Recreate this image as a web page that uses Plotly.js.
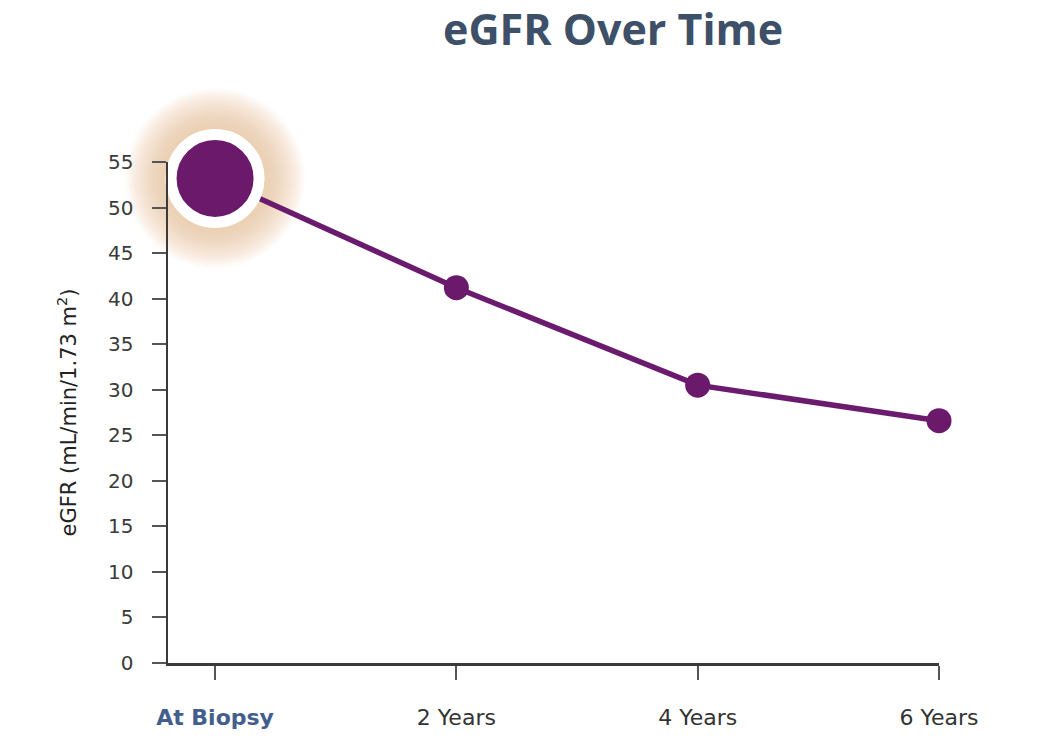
<!DOCTYPE html>
<html><head><meta charset="utf-8">
<script src="https://cdn.plot.ly/plotly-3.0.1.min.js"></script>
<style>html,body{margin:0;padding:0;background:#fff}#chart{width:1048px;height:746px}</style>
</head><body><div id="chart"></div>
<script>
const categories = ["At Biopsy", "2 Years", "4 Years", "6 Years"];
const egfrValues = [53.2, 41.2, 30.5, 26.6];
const tickLabels = ['<b><span style="color:#435e8c">At Biopsy</span></b>', "2 Years", "4 Years", "6 Years"];
const yTicks = [0,5,10,15,20,25,30,35,40,45,50,55];

const traces = [];
// soft glow around the first point
const nGlow = 26;
for (let i = 0; i < nGlow; i++) {
  const s = 180 - i * 3.4;
  traces.push({
    type: "scatter", mode: "markers",
    x: [categories[0]], y: [egfrValues[0]],
    marker: {size: s, color: "rgba(232,196,150,0.05)", opacity: 1, line: {width: 0}},
    hoverinfo: "skip", showlegend: false, cliponaxis: false
  });
}
traces.push({
  type: "scatter", mode: "lines+markers",
  x: categories, y: egfrValues,
  line: {color: "#6b1b6d", width: 5.5},
  marker: {color: "#6b1a6b", opacity: 1, size: [88, 25, 25, 25],
           line: {color: "#ffffff", width: [11, 0, 0, 0]}},
  showlegend: false, cliponaxis: false
});

const layout = {
  width: 1048, height: 746,
  margin: {l: 168, r: 109, t: 162, b: 83},
  paper_bgcolor: "#ffffff", plot_bgcolor: "rgba(0,0,0,0)",
  title: {text: "<b>eGFR Over Time</b>", x: 0.585, xref: "container", xanchor: "center",
          y: 0.96, yref: "container", yanchor: "middle",
          font: {family: "'Open Sans', sans-serif", size: 43, color: "#3d5068"}},
  xaxis: {
    type: "category", range: [-0.195, 3],
    tickmode: "array", tickvals: categories, ticktext: tickLabels,
    showline: true, linecolor: "#3a3a3a", linewidth: 2.5, showgrid: false, zeroline: false,
    ticks: "outside", ticklen: 14, tickwidth: 2, tickcolor: "#555",
    ticklabelstandoff: 19,
    tickfont: {family: "'DejaVu Sans', sans-serif", size: 22, color: "#333"}
  },
  yaxis: {
    range: [0, 55], tickmode: "array", tickvals: yTicks,
    showline: true, linecolor: "#3a3a3a", linewidth: 2.5, showgrid: false, zeroline: false,
    ticks: "outside", ticklen: 14, tickwidth: 2, tickcolor: "#555",
    ticklabelstandoff: 14,
    tickfont: {family: "'DejaVu Sans', sans-serif", size: 20, color: "#3a3a3a"},
    title: {text: "eGFR (mL/min/1.73 m<sup>2</sup>)", standoff: 26,
            font: {family: "'DejaVu Sans', sans-serif", size: 21, color: "#222"}}
  }
};
Plotly.newPlot("chart", traces, layout, {displayModeBar: false, staticPlot: true});
</script></body></html>
